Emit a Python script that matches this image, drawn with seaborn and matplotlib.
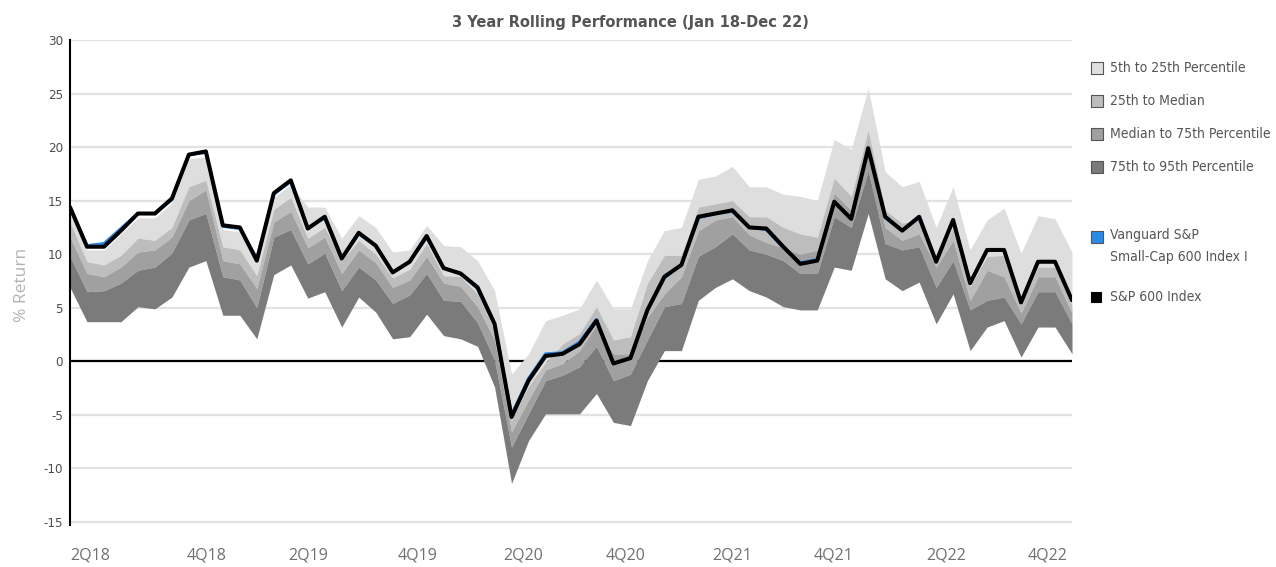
import pandas as pd
import matplotlib
matplotlib.use("Agg")
import matplotlib.pyplot as plt
import seaborn as sns
from matplotlib import font_manager
from matplotlib.patches import Rectangle

# ===============================
# DATA (3 year rolling returns, monthly Jan 18 - Dec 22)
# ===============================
months = pd.date_range("2018-01-31", "2022-12-31", freq="ME").strftime("%b %y").tolist()

index_ret = [14.4, 10.7, 10.7, 12.2, 13.8, 13.8, 15.2, 19.3, 19.6, 12.7,
             12.5, 9.4, 15.7, 16.9, 12.4, 13.5, 9.6, 12.0, 10.8, 8.3,
             9.3, 11.7, 8.7, 8.2, 6.9, 3.5, -5.2, -1.8, 0.5, 0.7,
             1.6, 3.8, -0.2, 0.3, 4.8, 7.9, 9.0, 13.5, 13.8, 14.1,
             12.5, 12.4, 10.7, 9.1, 9.4, 14.9, 13.3, 19.9, 13.5, 12.2,
             13.5, 9.3, 13.2, 7.3, 10.4, 10.4, 5.5, 9.3, 9.3, 5.7]

fund_ret = [14.3, 10.8, 11.0, 12.4, 13.8, 13.8, 15.1, 19.3, 19.5, 12.6,
            12.4, 9.6, 15.6, 16.8, 12.4, 13.4, 9.6, 11.9, 10.8, 8.3,
            9.3, 11.6, 8.7, 8.2, 6.8, 3.4, -5.0, -1.6, 0.7, 0.8,
            1.8, 3.9, -0.2, 0.3, 4.7, 7.8, 9.0, 13.4, 13.8, 14.0,
            12.5, 12.3, 10.6, 9.2, 9.5, 14.8, 13.4, 19.8, 13.4, 12.2,
            13.4, 9.3, 13.1, 7.3, 10.4, 10.4, 5.5, 9.3, 9.3, 5.7]

p5 = [14.1, 10.4, 10.4, 11.9, 13.4, 13.4, 14.8, 18.9, 19.1, 12.3,
      12.1, 9.3, 15.3, 16.5, 14.4, 14.4, 11.5, 13.6, 12.5, 10.2,
      10.4, 12.7, 10.8, 10.7, 9.4, 6.6, -1.2, 0.7, 3.8, 4.3,
      4.9, 7.6, 4.9, 4.9, 9.4, 12.2, 12.5, 17.0, 17.3, 18.2,
      16.3, 16.3, 15.6, 15.4, 15.0, 20.7, 19.8, 25.5, 17.7, 16.3,
      16.8, 12.5, 16.3, 10.4, 13.2, 14.3, 10.1, 13.6, 13.3, 10.2]

p25 = [13.0, 9.3, 9.0, 9.9, 11.5, 11.3, 12.5, 16.3, 16.9, 10.7,
       10.4, 8.0, 14.2, 15.3, 11.5, 12.5, 9.4, 11.3, 10.0, 7.8,
       8.6, 11.0, 8.0, 7.9, 6.3, 2.9, -5.5, -2.3, -0.1, 1.6,
       2.6, 5.1, 2.0, 2.3, 7.3, 9.9, 9.9, 14.4, 14.7, 15.0,
       13.5, 13.5, 12.5, 11.9, 11.6, 17.1, 15.4, 21.6, 14.1, 12.9,
       13.2, 9.4, 12.5, 7.0, 9.8, 9.9, 5.3, 8.8, 8.8, 5.2]

p50 = [11.6, 8.2, 7.9, 8.8, 10.2, 10.4, 11.6, 15.0, 16.0, 9.4,
       9.1, 6.8, 13.0, 14.0, 10.6, 11.6, 8.2, 10.4, 9.2, 6.9,
       7.6, 9.8, 7.3, 7.0, 5.1, 2.0, -6.6, -3.6, -0.8, -0.2,
       1.0, 3.4, 0.7, 0.7, 4.1, 6.3, 7.9, 12.2, 13.2, 13.5,
       11.8, 11.1, 10.6, 10.0, 10.4, 15.7, 14.1, 19.4, 12.5, 11.3,
       11.9, 8.8, 11.3, 5.7, 8.5, 7.9, 4.5, 7.9, 7.9, 4.5]

p75 = [9.8, 6.5, 6.6, 7.3, 8.5, 8.8, 10.1, 13.2, 13.8, 7.9,
       7.6, 5.0, 11.6, 12.3, 9.1, 10.1, 6.6, 8.8, 7.6, 5.4,
       6.2, 8.2, 5.7, 5.6, 3.6, 0.1, -8.0, -4.9, -1.8, -1.3,
       -0.5, 1.4, -1.8, -1.2, 2.0, 5.1, 5.4, 9.8, 10.7, 11.9,
       10.4, 10.0, 9.4, 8.2, 8.2, 13.5, 12.5, 17.8, 11.0, 10.4,
       10.7, 6.9, 9.4, 4.8, 5.7, 6.0, 3.5, 6.5, 6.5, 3.5]

p95 = [6.9, 3.7, 3.7, 3.7, 5.1, 4.9, 6.0, 8.8, 9.4, 4.3,
       4.3, 2.1, 8.1, 9.0, 5.9, 6.5, 3.2, 6.0, 4.6, 2.1,
       2.3, 4.4, 2.4, 2.1, 1.4, -2.4, -11.4, -7.4, -4.9, -4.9,
       -4.9, -3.0, -5.7, -6.0, -1.8, 1.0, 1.0, 5.7, 6.9, 7.7,
       6.6, 6.0, 5.1, 4.8, 4.8, 8.8, 8.5, 13.8, 7.7, 6.6,
       7.4, 3.5, 6.3, 1.0, 3.2, 3.8, 0.4, 3.2, 3.2, 0.7]

quarter_labels = ["2Q18", "4Q18", "2Q19", "4Q19", "2Q20", "4Q20", "2Q21", "4Q21", "2Q22", "4Q22"]
quarter_pos = [1.2, 8.05, 14.0, 20.45, 26.7, 32.7, 39.0, 44.95, 51.6, 57.55]

band_labels = ["5th to 25th Percentile", "25th to Median",
               "Median to 75th Percentile", "75th to 95th Percentile"]
band_colors = ["#dedede", "#bdbdbd", "#a0a0a0", "#7b7b7b"]

df = pd.DataFrame({"month": range(len(months)), "label": months,
                   "index": index_ret, "fund": fund_ret,
                   "p5": p5, "p25": p25, "p50": p50, "p75": p75, "p95": p95})

# ===============================
# FONTS
# ===============================
sns.set_style("white")
names = {f.name for f in font_manager.fontManager.ttflist}
narrow = "Liberation Sans Narrow" if "Liberation Sans Narrow" in names else "DejaVu Sans"
narrow_kw = dict(family=narrow) if narrow != "DejaVu Sans" else dict(family="DejaVu Sans", stretch="condensed")
plt.rcParams["font.family"] = ["DejaVu Sans"]
plt.rcParams["axes.unicode_minus"] = False

# ===============================
# PLOT
# ===============================
W, H = 1276, 567
fig = plt.figure(figsize=(W / 100, H / 100), dpi=100)
ax = fig.add_axes([70 / W, 42 / H, (1072 - 70) / W, (525 - 40) / H])

edges = ["p5", "p25", "p50", "p75", "p95"]
for k in range(4):
    ax.fill_between(df["month"], df[edges[k]], df[edges[k + 1]],
                    color=band_colors[k], linewidth=0, zorder=2)

sns.lineplot(data=df, x="month", y="fund", color="#2a8be6", linewidth=2.2, ax=ax, zorder=3)
sns.lineplot(data=df, x="month", y="index", color="black", linewidth=2.9, ax=ax, zorder=4)

ax.set_xlim(0, len(months) - 1)
ax.set_ylim(-15.28, 30)
ax.set_yticks(range(-15, 31, 5))
ax.yaxis.grid(True, color="#e2e2e2", linewidth=1.6, zorder=0)
ax.set_axisbelow(True)
ax.axhline(0, color="black", linewidth=1.6, zorder=1)

for s in ["top", "right", "bottom"]:
    ax.spines[s].set_visible(False)
ax.spines["left"].set_color("black")
ax.spines["left"].set_linewidth(1.5)
ax.spines["left"].set_zorder(5)

ax.tick_params(axis="y", length=4, width=1, color="black", pad=1, labelsize=9.5, labelcolor="#4d4d4d")
for t in ax.get_yticklabels():
    t.set_fontproperties(font_manager.FontProperties(size=9.5, **narrow_kw))
ax.set_xticks(quarter_pos)
ax.set_xticklabels(quarter_labels, fontsize=11.5, color="#707070", family="Open Sans")
ax.tick_params(axis="x", length=0, pad=16)

ax.set_xlabel("")
ax.set_ylabel("")
fig.text(22 / W, 1 - 285 / H, "% Return", rotation=90, ha="center", va="center",
         fontsize=12.5, color="#b3b3b3", family="Open Sans")

fig.text(630 / W, 1 - 22 / H, "3 Year Rolling Performance (Jan 18-Dec 22)",
         ha="center", va="center", fontsize=10.5, fontweight="bold", color="#555555")

# ===============================
# LEGEND (drawn at the right, like the source)
# ===============================
def legend_box(yc, face, size=12, edge="#555555"):
    fig.add_artist(Rectangle((1091 / W, 1 - (yc + size / 2) / H), size / W, size / H,
                             transform=fig.transFigure, facecolor=face,
                             edgecolor=edge, linewidth=0.8))

for k, yc in enumerate([68, 101, 134, 167]):
    legend_box(yc, band_colors[k])
    fig.text(1110 / W, 1 - yc / H, band_labels[k], ha="left", va="center",
             fontsize=10, color="#555555", **narrow_kw)

legend_box(237, "#2a8be6")
fig.text(1110 / W, 1 - 228 / H, "Vanguard S&P\nSmall-Cap 600 Index I", ha="left", va="top",
         fontsize=10, color="#555555", linespacing=1.75, **narrow_kw)
legend_box(297, "black", size=10, edge="black")
fig.text(1110 / W, 1 - 297 / H, "S&P 600 Index", ha="left", va="center",
         fontsize=10, color="#555555", **narrow_kw)

fig.savefig("out.png", dpi=100)
plt.close(fig)
